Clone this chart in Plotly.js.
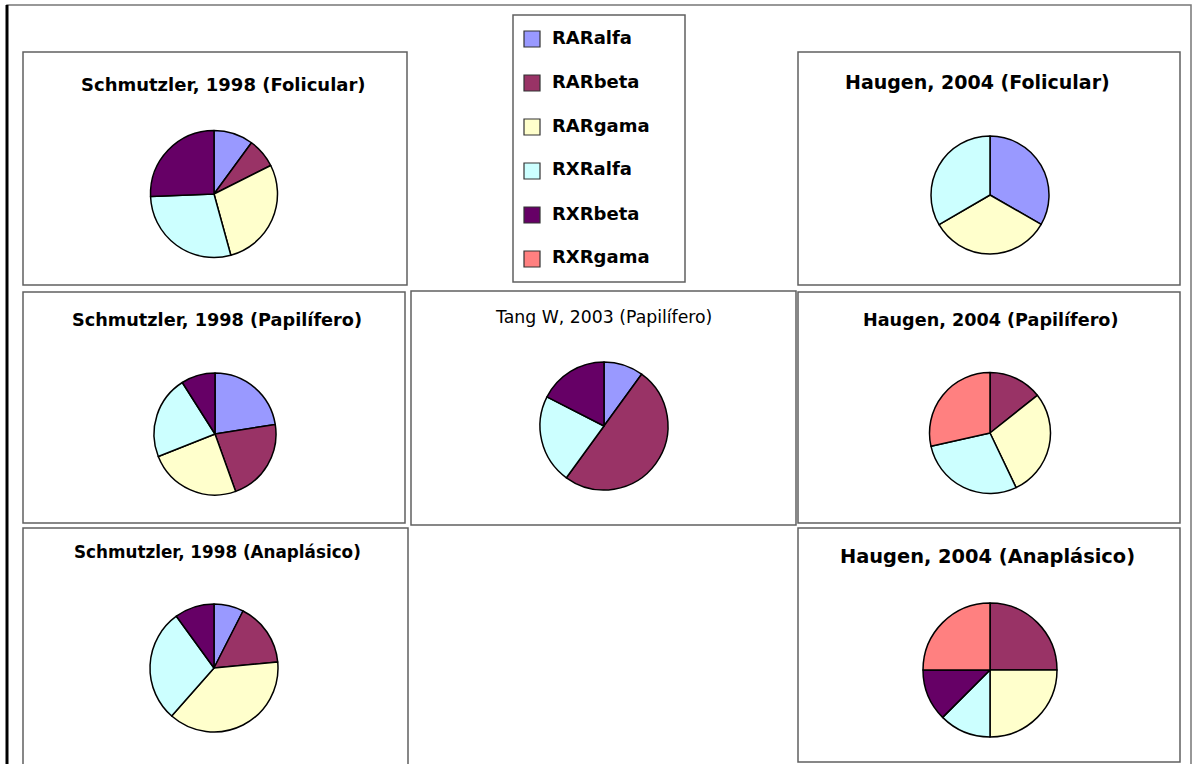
<!DOCTYPE html>
<html>
<head>
<meta charset="utf-8">
<script src="https://cdn.plot.ly/plotly-3.0.1.min.js"></script>
<style>
  html, body { margin: 0; padding: 0; background: #ffffff; }
  #chart { width: 1195px; height: 764px; }
</style>
</head>
<body>
<div id="chart"></div>
<script>
// Receptor isoforms and their colours
const receptors = ['RARalfa', 'RARbeta', 'RARgama', 'RXRalfa', 'RXRbeta', 'RXRgama'];
const receptorColors = ['#9999FF', '#993366', '#FFFFCC', '#CCFFFF', '#660066', '#FF8080'];

// Share of each receptor (%) per study, same order as `receptors`
const schmutzlerFolicular  = [10, 7.5, 28, 28.5, 25.5, 0];
const haugenFolicular      = [33.3, 0, 33.3, 33.4, 0, 0];
const schmutzlerPapilifero = [22.5, 22, 24.5, 22, 9, 0];
const tangPapilifero       = [10, 50, 0, 22.5, 17.5, 0];
const haugenPapilifero     = [0, 14.3, 28.6, 28.6, 0, 28.5];
const schmutzlerAnaplasico = [7.5, 16, 38, 28.5, 10, 0];
const haugenAnaplasico     = [0, 25, 25, 12.5, 12.5, 25];

// Panel titles
const studyTitles = [
  'Schmutzler, 1998 (Folicular)',
  'Haugen, 2004 (Folicular)',
  'Schmutzler, 1998 (Papilífero)',
  'Tang W, 2003 (Papilífero)',
  'Haugen, 2004 (Papilífero)',
  'Schmutzler, 1998 (Anaplásico)',
  'Haugen, 2004 (Anaplásico)'
];
const studyValues = [
  schmutzlerFolicular, haugenFolicular, schmutzlerPapilifero, tangPapilifero,
  haugenPapilifero, schmutzlerAnaplasico, haugenAnaplasico
];

const W = 1195, H = 764;
const px = x => x / W;
const py = y => 1 - y / H;

// Panel frames [x0, y0, x1, y1] in pixels
const panels = [
  [23, 52, 407, 285],
  [798, 52, 1180, 285],
  [23, 292, 405, 523],
  [411, 291, 796, 525],
  [798, 292, 1180, 523],
  [23, 528, 408, 772],
  [798, 528, 1180, 762]
];
// Pie centre and diameter in pixels
const pieGeom = [
  [214, 194, 127],
  [990, 195, 118],
  [215, 434, 122],
  [604, 426, 128],
  [990, 433, 121],
  [214, 668, 128],
  [990, 670, 134]
];
// Title placement [cx, cy, size, bold]
const titleGeom = [
  [223, 84, 18, true],
  [977, 82, 19, true],
  [217, 320, 17.7, true],
  [603, 317, 17.3, false],
  [991, 320, 17.6, true],
  [217, 552, 16.8, true],
  [987, 556, 19.4, true]
];

const FONT = '"DejaVu Sans", Arial, sans-serif';

const traces = studyValues.map((vals, k) => {
  const labels = [], values = [], colors = [];
  vals.forEach((v, i) => {
    if (v > 0) { labels.push(receptors[i]); values.push(v); colors.push(receptorColors[i]); }
  });
  const [cx, cy, d] = pieGeom[k];
  return {
    type: 'pie',
    name: studyTitles[k],
    labels: labels,
    values: values,
    sort: false,
    direction: 'clockwise',
    rotation: 0,
    textinfo: 'none',
    hoverinfo: 'label+percent',
    showlegend: false,
    marker: { colors: colors, line: { color: '#000000', width: 1.5 } },
    domain: {
      x: [px(cx - d / 2), px(cx + d / 2)],
      y: [py(cy + d / 2), py(cy - d / 2)]
    }
  };
});

const shapes = [];
const annotations = [];

// Outer frame
shapes.push({ type: 'rect', xref: 'paper', yref: 'paper',
  x0: px(7), x1: px(1191), y0: py(775), y1: py(5),
  line: { color: '#777777', width: 1.5 } });
shapes.push({ type: 'line', xref: 'paper', yref: 'paper',
  x0: px(7), x1: px(7), y0: py(775), y1: py(5),
  line: { color: '#000000', width: 3 } });

// Panel frames and titles
panels.forEach((p, k) => {
  shapes.push({ type: 'rect', xref: 'paper', yref: 'paper',
    x0: px(p[0]), x1: px(p[2]), y0: py(p[3]), y1: py(p[1]),
    line: { color: '#606060', width: 1.5 } });
  const [tx, ty, ts, tb] = titleGeom[k];
  annotations.push({
    xref: 'paper', yref: 'paper', x: px(tx), y: py(ty),
    xanchor: 'center', yanchor: 'middle', showarrow: false,
    text: studyTitles[k],
    font: { family: FONT, size: ts, color: '#000000', weight: tb ? 'bold' : 'normal' }
  });
});

// Legend box
shapes.push({ type: 'rect', xref: 'paper', yref: 'paper',
  x0: px(513), x1: px(685), y0: py(282), y1: py(15),
  line: { color: '#606060', width: 1.5 } });
receptors.forEach((name, i) => {
  const cy = 39 + i * 44;
  shapes.push({ type: 'rect', xref: 'paper', yref: 'paper',
    x0: px(524), x1: px(540), y0: py(cy + 8), y1: py(cy - 8),
    fillcolor: receptorColors[i], line: { color: '#333333', width: 1.2 } });
  annotations.push({
    xref: 'paper', yref: 'paper', x: px(550), y: py(cy - 2),
    xanchor: 'left', yanchor: 'middle', showarrow: false,
    text: name,
    font: { family: FONT, size: 18, color: '#000000', weight: 'bold' }
  });
});

const layout = {
  width: W,
  height: H,
  margin: { l: 0, r: 0, t: 0, b: 0 },
  paper_bgcolor: '#ffffff',
  plot_bgcolor: '#ffffff',
  showlegend: false,
  shapes: shapes,
  annotations: annotations
};

Plotly.newPlot('chart', traces, layout, { displayModeBar: false, responsive: false });
</script>
</body>
</html>
